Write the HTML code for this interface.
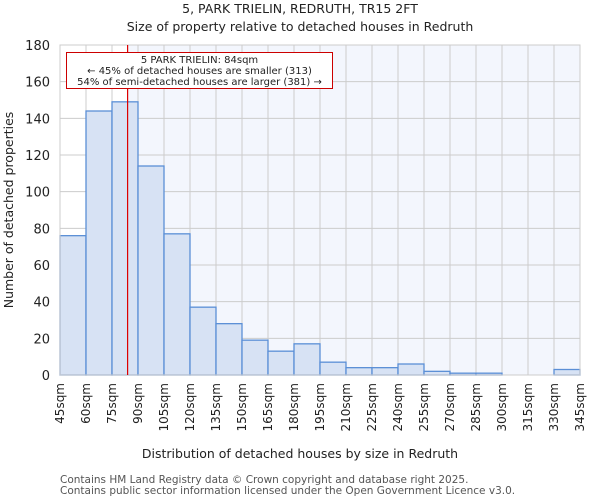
<!DOCTYPE html>
<html><head><meta charset="utf-8"><style>
body{margin:0;background:#fff;font-family:"DejaVu Sans","Liberation Sans",sans-serif;}
</style></head><body>
<svg width="600" height="500" xmlns="http://www.w3.org/2000/svg" font-family="DejaVu Sans, Liberation Sans, sans-serif">
<text x="300" y="13" font-size="12.5" text-anchor="middle" fill="#222">5, PARK TRIELIN, REDRUTH, TR15 2FT</text>
<text x="300" y="31" font-size="12.5" text-anchor="middle" fill="#222">Size of property relative to detached houses in Redruth</text>
<g id="plot"></g>
<text x="300" y="458" font-size="12.5" text-anchor="middle" fill="#222">Distribution of detached houses by size in Redruth</text>
<text transform="translate(13,210) rotate(-90)" font-size="12.5" text-anchor="middle" fill="#222">Number of detached properties</text>
<text x="60" y="483" font-size="10.5" fill="#555">Contains HM Land Registry data © Crown copyright and database right 2025.</text>
<text x="60" y="494" font-size="10.5" fill="#555">Contains public sector information licensed under the Open Government Licence v3.0.</text>
</svg>
<script>
const binStarts=[45,60,75,90,105,120,135,150,165,180,195,210,225,240,255,270,285,300,315,330];
const counts=[76,144,149,114,77,37,28,19,13,17,7,4,4,6,2,1,1,0,0,3];
const xTicks=[45,60,75,90,105,120,135,150,165,180,195,210,225,240,255,270,285,300,315,330,345];
const yTicks=[0,20,40,60,80,100,120,140,160,180];
const subjectSize=84;
const NS="http://www.w3.org/2000/svg";
const L=60,R=580,T=45,B=375;
const xs=v=>L+(v-45)/(345-45)*(R-L);
const ys=v=>B-v/180*(B-T);
const g=document.getElementById('plot');
function mk(tag,at){const e=document.createElementNS(NS,tag);for(const k in at)e.setAttribute(k,at[k]);g.appendChild(e);return e;}
let e=mk('rect',{x:L,y:T,width:R-L,height:B-T,fill:'#f3f6fd'});


e=mk('rect',{x:L,y:T,width:xs(subjectSize)-L,height:B-T,fill:'#ffffff'});


yTicks.forEach(t=>{
 e=mk('line',{x1:L,x2:R,y1:ys(t),y2:ys(t),stroke:'#cccccc','stroke-width':1});
 
 
 e=mk('text',{x:L-10,y:ys(t)+5,'font-size':13,'text-anchor':'end',fill:'#222'});
 e.textContent=t;
 
 
});
xTicks.forEach(t=>{
 e=mk('line',{x1:xs(t),x2:xs(t),y1:T,y2:B,stroke:'#cccccc','stroke-width':1});
 
 
 e=mk('text',{transform:`translate(${xs(t)+4},${B+8}) rotate(-90)`,'font-size':12,'text-anchor':'end',fill:'#222'});
 e.textContent=t+'sqm';
 
 
});
binStarts.forEach((s,i)=>{
 if(counts[i]<=0)return;
 e=mk('rect',{x:xs(s),y:ys(counts[i]),width:xs(s+15)-xs(s),height:B-ys(counts[i]),fill:'#d7e2f4',stroke:'#5b8fd6','stroke-width':1.3});
 
 
});
e=mk('rect',{x:L,y:T,width:R-L,height:B-T,fill:'none',stroke:'#cccccc'});


e=mk('line',{x1:xs(subjectSize),x2:xs(subjectSize),y1:T,y2:B,stroke:'#dd0000','stroke-width':1.2});


e=mk('rect',{x:66.5,y:52.5,width:266,height:36,fill:'#fff',stroke:'#cc0000','stroke-width':1});


const lines=['5 PARK TRIELIN: 84sqm','← 45% of detached houses are smaller (313)','54% of semi-detached houses are larger (381) →'];
lines.forEach((s,i)=>{
 e=mk('text',{x:199.5,y:63+i*11,'font-size':10,'text-anchor':'middle',fill:'#222'});
 e.textContent=s;
 
 
});
</script>
</body></html>
